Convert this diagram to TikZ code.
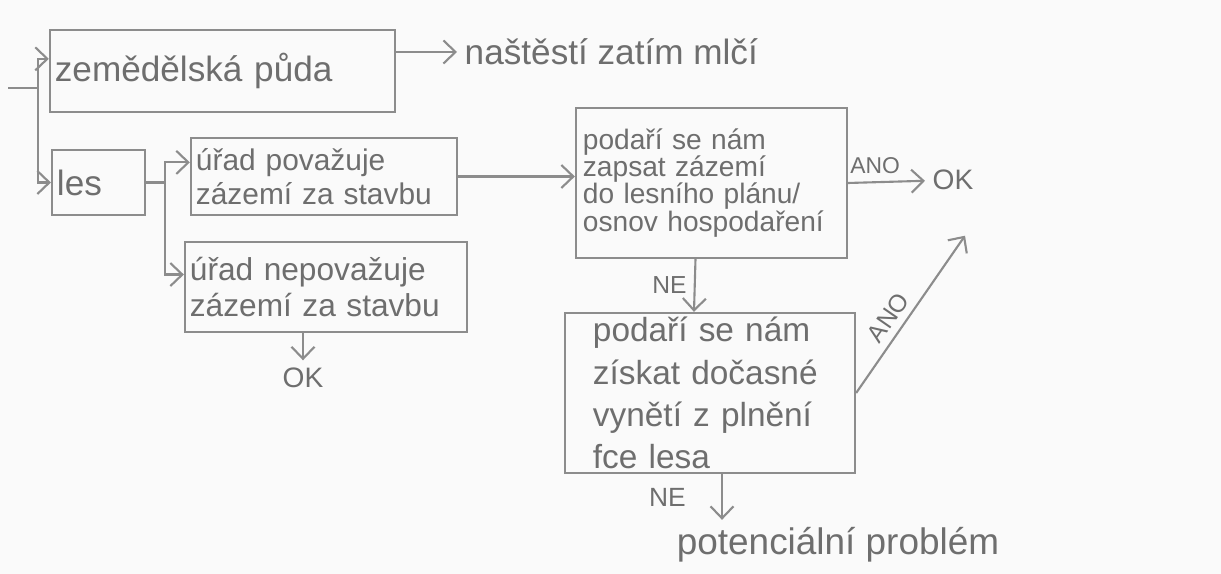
\documentclass[tikz,border=0pt]{standalone}
\usepackage{fontspec}
\setmainfont{Liberation Sans}
\usetikzlibrary{arrows.meta, positioning}
\definecolor{pencil}{HTML}{8C8C8C}
\definecolor{lead}{HTML}{6E6E6E}

\begin{document}
\begin{tikzpicture}[x=0.01cm, y=-0.01cm,
        box/.style={draw=pencil, line width=0.6pt, inner xsep=0.05cm, inner ysep=0pt, align=left, text=lead},
        arr/.style={-{Straight Barb[length=1.2mm, width=2.3mm]}, draw=pencil, line width=0.6pt},
        line/.style={draw=pencil, line width=0.6pt},
        lbl/.style={text=lead, inner sep=2pt}
      ]
      \fill[black!2] (0,0) rectangle (1221,574);
      \useasboundingbox (0,0) rectangle (1221,574);
      % boxes
      \node[box, text width=3.35cm, minimum height=0.82cm, font=\fontsize{10}{12}\selectfont] (zem) at (222.5,71) {zemědělská půda};
      \node[box, text width=0.83cm, minimum height=0.65cm, font=\fontsize{10}{12}\selectfont] (les) at (98.5,182.5) {les};
      \node[box, text width=2.56cm, minimum height=0.77cm, font=\fontsize{8.5}{9.7}\selectfont] (urad) at (324,176.5) {úřad považuje\\zázemí za stavbu};
      \node[box, text width=2.72cm, minimum height=0.90cm, font=\fontsize{9}{10.2}\selectfont] (nurad) at (326,287) {úřad nepovažuje\\zázemí za stavbu};
      \node[box, inner xsep=0.07cm, text width=2.57cm, minimum height=1.5cm, font=\fontsize{8}{7.7}\selectfont] (plan) at (711.5,183) {podaří se nám\\zapsat zázemí\\do lesního plánu/\\osnov hospodaření};
      \node[box, inner xsep=0.28cm, text width=2.34cm, minimum height=1.6cm, font=\fontsize{9.5}{12}\selectfont] (vynet) at (710,393) {podaří se nám\\získat dočasné\\vynětí z plnění\\fce lesa};
      % free texts
      \node[lbl, anchor=west, font=\fontsize{10}{12}\selectfont] (note) at (457,52) {naštěstí zatím mlčí};
      \node[lbl, font=\fontsize{8}{10}\selectfont] (okA) at (953,180) {OK};
      \node[lbl, font=\fontsize{8}{10}\selectfont] (okB) at (303,378) {OK};
      \node[lbl, font=\fontsize{10.5}{12}\selectfont] (prob) at (838,545) {potenciální problém};
      % connectors
      \coordinate (in) at (8,88);
      \coordinate (split) at (38,88);
      \coordinate[right=0.19cm of les.east] (fork);
      \draw[line] (in) -- (split);
      \draw[arr] (split) |- (zem.176);
      \draw[arr] (split) |- (les.west);
      \draw[arr] (zem.east |- note.west) -- (note.west);
      \draw[line] (les.east) -- (fork);
      \draw[arr] (fork) |- (urad.174);
      \draw[arr] (fork) |- (nurad.175);
      \draw[arr] (nurad.south -| okB) -- (okB);
      \draw[arr] (urad.east) -- (urad.east -| plan.west);
      \draw[arr] (plan.east) -- node[lbl, above, pos=0.35, font=\fontsize{6.5}{8}\selectfont] {ANO} (okA);
      \draw[arr] ([xshift=-0.16cm]plan.south) -- node[lbl, left, font=\fontsize{7}{8}\selectfont] {NE} ([xshift=-0.16cm]vynet.north);
      \draw[arr] (vynet.east) -- node[lbl, sloped, above, pos=0.42, font=\fontsize{7}{8}\selectfont] {ANO} ([xshift=0.12cm, yshift=-0.38cm]okA.south);
      \draw[arr] ([xshift=0.12cm]vynet.south) -- node[lbl, left=8pt, font=\fontsize{7.5}{9}\selectfont] {NE} ([xshift=0.12cm]vynet.south |- prob.north);
    \end{tikzpicture}
\end{document}
